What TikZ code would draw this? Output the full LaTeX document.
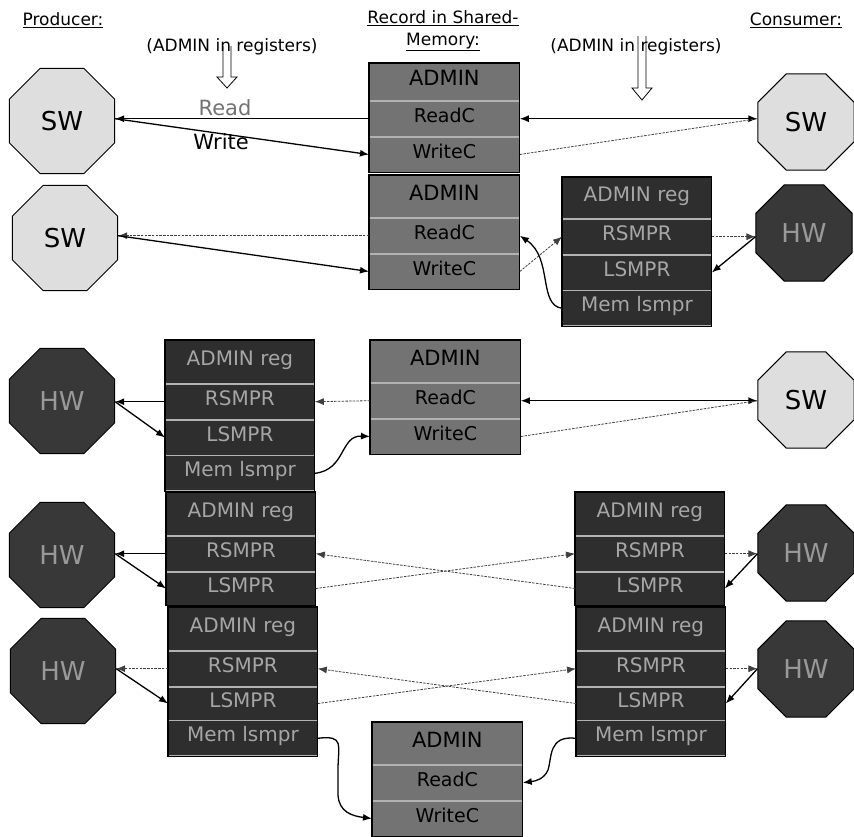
\documentclass[tikz,border=0pt]{standalone}
\usepackage{fontspec}
\setmainfont{DejaVu Sans}
\usetikzlibrary{shapes.geometric,arrows.meta,positioning}
\tikzset{
  octbox/.style={regular polygon, regular polygon sides=8, draw=black, line width=1pt, inner sep=0pt, minimum size=#1},
  swoct/.style={octbox=#1, fill=black!13, text=black, font=\fontsize{26}{30}\selectfont},
  hwoct/.style={octbox=#1, fill=black!78, text=black!40, font=\fontsize{26}{30}\selectfont},
  cellbox/.style={draw=black!30, line width=0.8pt, inner sep=0pt, text height=0.73em, text depth=0pt},
  recrow/.style={cellbox, minimum width=150pt, fill=black!55, text=black, font=\fontsize{19}{22}\selectfont},
  recadmin/.style={recrow, font=\fontsize{21}{24}\selectfont},
  regrow/.style={cellbox, minimum width=149pt, fill=black!82, text=black!35, font=\fontsize{20}{24}\selectfont},
  boxframe/.style={draw=black, line width=1.2pt},
  tipx/.tip={Latex[length=9pt,width=7pt]},
  solidarr/.style={line width=1.3pt, -tipx},
  thinarr/.style={line width=1pt, -tipx},
  bothsolid/.style={line width=1.3pt, tipx-tipx},
  dotarr/.style={line width=0.8pt, black!75, dash pattern=on 2.5pt off 1.2pt, -tipx},
  dotline/.style={line width=0.8pt, black!75, dash pattern=on 2.5pt off 1.2pt},
  hdr/.style={font=\fontsize{17}{22}\selectfont, align=center},
  hollow/.style={draw=black, line width=0.8pt},
  lbl/.style={font=\fontsize{21}{24}\selectfont}
}
\begin{document}
\begin{tikzpicture}[x=1pt,y=-1pt]
\useasboundingbox[fill=white] (0,0) rectangle (854,836);

% headers
\node[hdr] (prod) at (63,20) {\underline{Producer:}};
\node[hdr] (recH) at (443,31) {\underline{Record in Shared-}\\\underline{Memory:}};
\node[hdr] (cons) at (796,20) {\underline{Consumer:}};
\node[hdr] (admL) at (232,47) {(ADMIN in registers)};
\node[hdr] (admR) at (636,47) {(ADMIN in registers)};
\draw[hollow] (223,46) -- (223,77) -- (217,77) -- (227,88) -- (237,77) -- (231,77) -- (231,46);
\draw[hollow] (638,36) -- (638,88) -- (632,88) -- (642,100) -- (652,88) -- (646,88) -- (646,36);

% ---------- row 1
\node[swoct=114] (sw1l) at (62,121) {SW};
\node[swoct=104] (sw1r) at (806,122) {SW};
\node[recadmin, anchor=north west, minimum height=37pt] (r1a) at (369,63) {ADMIN};
\node[recrow, below=0pt of r1a, minimum height=35pt] (r1b) {ReadC};
\node[recrow, below=0pt of r1b, minimum height=35pt] (r1c) {WriteC};
\draw[boxframe] (r1a.north west) rectangle (r1c.south east);
\node[lbl, text=black!55] (readlbl) at (225,108) {Read};
\node[lbl] (writelbl) at (221,142) {Write};
\coordinate (p1l) at (r1b.west -| sw1l.east);
\coordinate (p1r) at (r1b.east -| sw1r.west);
\draw[thinarr] (r1b.west) -- (p1l);
\draw[solidarr] (p1l) -- (r1c.west);
\draw[bothsolid] (r1b.east) -- (p1r);
\draw[dotline] (r1c.east) -- (p1r);

% ---------- row 2
\node[swoct=114] (sw2l) at (65,238) {SW};
\node[recadmin, anchor=north west, minimum height=42pt] (r2a) at (369,175) {ADMIN};
\node[recrow, below=0pt of r2a, minimum height=35pt] (r2b) {ReadC};
\node[recrow, below=0pt of r2b, minimum height=35pt] (r2c) {WriteC};
\draw[boxframe] (r2a.north west) rectangle (r2c.south east);
\node[regrow, anchor=north west, minimum height=41pt] (g2a) at (562,177) {ADMIN reg};
\node[regrow, below=0pt of g2a, minimum height=35pt] (g2b) {RSMPR};
\node[regrow, below=0pt of g2b, minimum height=35pt] (g2c) {LSMPR};
\node[regrow, below=0pt of g2c, minimum height=35pt] (g2d) {Mem lsmpr};
\draw[boxframe] (g2a.north west) rectangle (g2d.south east);
\node[hwoct=104] (hw2r) at (804,233) {HW};
\coordinate (p2l) at (r2b.west -| sw2l.east);
\coordinate (p2r) at (g2b.east -| hw2r.west);
\draw[dotarr] (r2b.west) -- (p2l);
\draw[solidarr] (p2l) -- (r2c.west);
\draw[dotarr] (r2c.east) -- (g2b.west);
\draw[solidarr] (g2d.west) .. controls (538,305) and (553,258) .. (r2b.east);
\draw[dotarr] (g2b.east) -- (p2r);
\draw[solidarr] (p2r) -- (g2c.east);

% ---------- row 3
\node[hwoct=114] (hw3l) at (62,401) {HW};
\node[regrow, anchor=north west, minimum height=43pt] (g3a) at (165,340) {ADMIN reg};
\node[regrow, below=0pt of g3a, minimum height=35pt] (g3b) {RSMPR};
\node[regrow, below=0pt of g3b, minimum height=35pt] (g3c) {LSMPR};
\node[regrow, below=0pt of g3c, minimum height=35pt] (g3d) {Mem lsmpr};
\draw[boxframe] (g3a.north west) rectangle (g3d.south east);
\node[recadmin, anchor=north west, minimum height=42pt] (r3a) at (370,340) {ADMIN};
\node[recrow, below=0pt of r3a, minimum height=35pt] (r3b) {ReadC};
\node[recrow, below=0pt of r3b, minimum height=35pt] (r3c) {WriteC};
\draw[boxframe] (r3a.north west) rectangle (r3c.south east);
\node[swoct=104] (sw3r) at (806,400) {SW};
\coordinate (p3l) at (g3b.west -| hw3l.east);
\coordinate (p3r) at (r3b.east -| sw3r.west);
\draw[solidarr] (g3b.west) -- (p3l);
\draw[solidarr] (p3l) -- (g3c.west);
\draw[dotarr] (r3b.west) -- (g3b.east);
\draw[solidarr] (g3d.east) .. controls (346,470) and (340,435) .. (r3c.west);
\draw[bothsolid] (r3b.east) -- (p3r);
\draw[dotline] (r3c.east) -- (p3r);

% ---------- row 4
\node[hwoct=114] (hw4l) at (62,555) {HW};
\node[regrow, anchor=north west, minimum height=43pt] (g4a) at (166,492) {ADMIN reg};
\node[regrow, below=0pt of g4a, minimum height=35pt] (g4b) {RSMPR};
\node[regrow, below=0pt of g4b, minimum height=33pt] (g4c) {LSMPR};
\draw[boxframe] (g4a.north west) rectangle (g4c.south east);
\node[regrow, anchor=north west, minimum height=43pt] (h4a) at (575,492) {ADMIN reg};
\node[regrow, below=0pt of h4a, minimum height=35pt] (h4b) {RSMPR};
\node[regrow, below=0pt of h4b, minimum height=33pt] (h4c) {LSMPR};
\draw[boxframe] (h4a.north west) rectangle (h4c.south east);
\node[hwoct=104] (hw4r) at (806,553) {HW};
\coordinate (p4l) at (g4b.west -| hw4l.east);
\coordinate (p4r) at (h4b.east -| hw4r.west);
\draw[solidarr] (g4b.west) -- (p4l);
\draw[solidarr] (p4l) -- (g4c.west);
\draw[dotarr] (g4c.east) -- (h4b.west);
\draw[dotarr] (h4c.west) -- (g4b.east);
\draw[dotarr] (h4b.east) -- (p4r);
\draw[solidarr] (p4r) -- (h4c.east);

% ---------- row 5
\node[hwoct=114] (hw5l) at (63,671) {HW};
\node[regrow, anchor=north west, minimum height=43pt] (g5a) at (168,607) {ADMIN reg};
\node[regrow, below=0pt of g5a, minimum height=35pt] (g5b) {RSMPR};
\node[regrow, below=0pt of g5b, minimum height=33pt] (g5c) {LSMPR};
\node[regrow, below=0pt of g5c, minimum height=35pt] (g5d) {Mem lsmpr};
\draw[boxframe] (g5a.north west) rectangle (g5d.south east);
\node[regrow, anchor=north west, minimum height=43pt] (h5a) at (576,607) {ADMIN reg};
\node[regrow, below=0pt of h5a, minimum height=35pt] (h5b) {RSMPR};
\node[regrow, below=0pt of h5b, minimum height=33pt] (h5c) {LSMPR};
\node[regrow, below=0pt of h5c, minimum height=35pt] (h5d) {Mem lsmpr};
\draw[boxframe] (h5a.north west) rectangle (h5d.south east);
\node[hwoct=104] (hw5r) at (806,669) {HW};
\node[recadmin, anchor=north west, minimum height=42pt] (r4a) at (372,722) {ADMIN};
\node[recrow, below=0pt of r4a, minimum height=35pt] (r4b) {ReadC};
\node[recrow, below=0pt of r4b, minimum height=35pt] (r4c) {WriteC};
\draw[boxframe] (r4a.north west) rectangle (r4c.south east);
\coordinate (p5l) at (g5b.west -| hw5l.east);
\coordinate (p5r) at (h5b.east -| hw5r.west);
\draw[dotarr] (g5b.west) -- (p5l);
\draw[solidarr] (p5l) -- (g5c.west);
\draw[dotarr] (g5c.east) -- (h5b.west);
\draw[dotarr] (h5c.west) -- (g5b.east);
\draw[dotarr] (h5b.east) -- (p5r);
\draw[solidarr] (p5r) -- (h5c.east);
\draw[solidarr] (g5d.east) .. controls (345,735) and (338,745) .. (338,770) -- (338,795) .. controls (339,812) and (352,816) .. (r4c.west);
\draw[solidarr] (h5d.west) .. controls (548,735) and (552,758) .. (548,770) .. controls (544,779) and (536,781) .. (r4b.east);
\end{tikzpicture}
\end{document}
